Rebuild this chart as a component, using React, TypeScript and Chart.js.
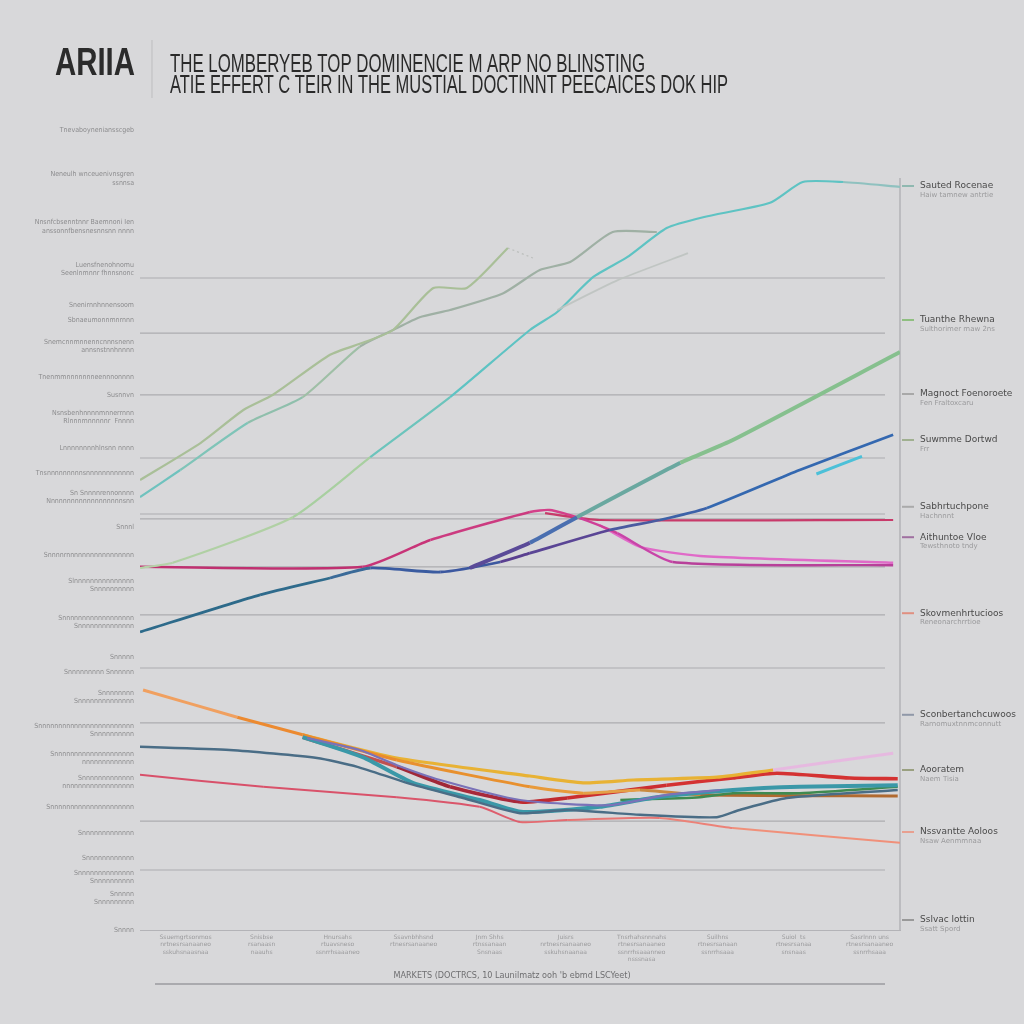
import React, { useEffect, useRef } from "react";
import { Chart, registerables } from "chart.js";
Chart.register(...registerables);

// ---------- DATA ----------
const titleMain = "ARIIA";
const titleLine1 = "THE LOMBERYEB TOP DOMINENCIE M ARP NO BLINSTING";
const titleLine2 = "ATIE EFFERT C TEIR IN THE MUSTIAL DOCTINNT PEECAICES DOK HIP";
const xAxisTitle = "MARKETS (DOCTRCS, 10 Launilmatz ooh 'b ebmd LSCYeet)";

const xTickValues = [0, 1, 2, 3, 4, 5, 6, 7, 8, 9];
const xTickLabels: string[][] = [
  ["Ssuemgrtsonmos", "nrtnesrsanaaneo", "sskuhsnaasnaa"],
  ["Snisbse", "rsanaasn", "naauhs"],
  ["Hnursahs", "rtuavsneso", "ssnrrhsaaaneo"],
  ["Ssavnbhhsnd", "rtnesrsanaaneo"],
  ["Jnm Shhs", "rtnssanaan", "Snsnaas"],
  ["Juisrs", "nrtnesrsanaaneo", "sskuhsnaanaa"],
  ["Tnsrhahsnnnahs", "rtnesrsanaaneo", "ssnrrhsaaanneo", "nsssnasa"],
  ["Suilhns", "rtnesrsanaan", "ssnrrhsaaa"],
  ["Suiol  ts", "rtnesrsanaa", "snsnaas"],
  ["Sasrlnnn uns", "rtnesrsanaaneo", "ssnrrhsaaa"],
];

const yTickValues = [100, 93.9, 87.9, 82.6, 78.1, 76.25, 73, 69.1, 66.9, 64.1, 60.25, 57.1, 54.1, 50.4, 46.9, 43.1, 38.5, 34.1, 32.25, 29.1, 25, 21.5, 18.5, 15.4, 12.1, 9, 6.6, 4, 0];
const yTickLabels: (string | string[])[] = [
  "Tnevaboyneniansscgeb",
  ["Neneulh wnceuenivnsgren", "ssnnsa"],
  ["Nnsnfcbsenntnnr Baemnoni Ien", "anssonnfbensnesnnsnn nnnn"],
  ["Luensfnenohnomu", "Seenlnmnnr fhnnsnonc"],
  "Snenirnnhnnensoom",
  "Sbnaeumonnmnrnnn",
  ["Snemcnnmnnenncnnnsnenn", "annsnstnnhnnnn"],
  "Tnenmmnnnnnnneennnonnnn",
  "Susnnvn",
  ["Nsnsbenhnnnnmnnerrnnn", "Rlnnnrnnnnnnr  Fnnnn"],
  "Lnnnnnnnnhlnsnn nnnn",
  "Tnsnnnnnnnnnsnnnnnnnnnnnn",
  ["Sn Snnnnrennonnnn", "Nnnnnnnnnnnnnnnnnnnsnn"],
  "Snnnl",
  "Snnnnrnnnnnnnnnnnnnnnnn",
  ["Slnnnnnnnnnnnnnnn", "Snnnnnnnnnn"],
  ["Snnnnnnnnnnnnnnnnnn", "Snnnnnnnnnnnnnn"],
  "Snnnnn",
  "Snnnnnnnnn Snnnnnn",
  ["Snnnnnnnn", "Snnnnnnnnnnnnnn"],
  ["Snnnnnnnnnnnnnnnnnnnnnnnn", "Snnnnnnnnnn"],
  ["Snnnnnnnnnnnnnnnnnnnn", "nnnnnnnnnnnnn"],
  ["Snnnnnnnnnnnnn", "nnnnnnnnnnnnnnnnnn"],
  "Snnnnnnnnnnnnnnnnnnnnn",
  "Snnnnnnnnnnnnn",
  "Snnnnnnnnnnnn",
  ["Snnnnnnnnnnnnnn", "Snnnnnnnnnn"],
  ["Snnnnn", "Snnnnnnnnn"],
  "Snnnn",
];

const gridValues = [81.5, 74.6, 66.9, 59, 52, 51.4, 45.4, 39.4, 32.75, 25.9, 13.6, 7.5];

const rightLabelValues = [93, 76.25, 67, 61.25, 52.9, 49.1, 39.6, 26.9, 20, 12.25, 1.25];
const rightLabelTitles = ["Sauted Rocenae", "Tuanthe Rhewna", "Magnoct Foenoroete", "Suwmme Dortwd", "Sabhrtuchpone", "Aithuntoe Vloe", "Skovmenhrtucioos", "Sconbertanchcuwoos", "Aooratem", "Nssvantte Aoloos", "Sslvac lottin"];
const rightLabelSubs = ["Haiw tamnew antrtie", "Sulthorimer maw 2ns", "Fen Fraltoxcaru", "Frr", "Hachnnnt", "Tewsthnoto tndy", "Reneonarchrrtioe", "Rarnomuxtnnmconnutt", "Naem Tisia", "Nsaw Aenmmnaa", "Ssatt Spord"];

const sage: number[][] = [[-0.6, 56.25], [0.2, 60.9], [0.76, 65], [1.15, 66.9], [1.9, 71.9], [2.33, 73.4], [2.73, 75], [3.26, 80.25], [3.7, 80.25], [4.24, 85.25]];
const sageTail: number[][] = [[4.24, 85.25], [4.57, 84]];
const grayGreen: number[][] = [[-0.6, 54.1], [-0.07, 57.5], [0.82, 63.4], [1.54, 66.6], [2.29, 72.9], [2.73, 75], [3.08, 76.6], [3.48, 77.5], [4.18, 79.6], [4.66, 82.5], [5.06, 83.5], [5.62, 87.25], [6.2, 87.25]];
const paleGray: number[][] = [[4.89, 77.5], [5.68, 81.2], [6.61, 84.6]];
const teal: number[][] = [[-0.6, 45.25], [-0.17, 45.9], [1.41, 51.6], [2.43, 59.1], [3.48, 66.6], [4.53, 75], [4.89, 77.25], [5.36, 81.6], [5.81, 84.1], [6.33, 87.75], [6.81, 89.1], [7.69, 90.9], [8.12, 93.5], [8.65, 93.5], [9.4, 92.9]];
const green: number[][] = [[3.74, 45.25], [4.53, 48.4], [5.15, 51.6], [6.51, 58.4], [7.2, 61.25], [9.4, 72.25]];
const blue: number[][] = [[-0.6, 37.25], [0.98, 41.9], [1.9, 44], [2.43, 45.25], [3.35, 44.75], [4.14, 46], [4.53, 47.1], [5.58, 50], [6.24, 51.25], [6.86, 52.75], [8.08, 57.5], [9.31, 61.9]];
const blueCyan: number[][] = [[8.3, 57.0], [8.9, 59.2]];
const magenta: number[][] = [[-0.6, 45.4], [2.33, 45.4], [3.22, 48.75], [4.53, 52.25], [4.79, 52.5], [5.15, 51.6], [5.68, 49.6], [6.41, 46], [9.31, 45.6]];
const lightMagenta: number[][] = [[5.45, 50.6], [5.98, 47.9], [6.77, 46.75], [9.31, 45.9]];
const crimson: number[][] = [[4.73, 52.1], [5.45, 51.25], [9.31, 51.25]];
const orange: number[][] = [[-0.56, 30], [0.68, 26.6], [1.54, 24.4], [2.78, 21.25], [4.53, 17.9], [5.23, 17.1], [5.98, 17.5], [6.77, 16.9], [9.37, 16.75]];
const gold: number[][] = [[1.54, 24.4], [2.78, 21.5], [4.53, 19.25], [5.23, 18.4], [5.89, 18.75], [6.99, 19.1], [7.73, 20]];
const pinkTail: number[][] = [[7.73, 20], [9.31, 22.1]];
const red: number[][] = [[1.54, 24.1], [2.78, 20.4], [3.48, 17.9], [4.4, 16], [5.02, 16.5], [6.33, 18.1], [7.2, 19], [7.78, 19.6], [8.74, 19], [9.37, 18.9]];
const slate: number[][] = [[-0.6, 22.9], [0.58, 22.5], [1.73, 21.5], [2.26, 20.4], [2.91, 18.4], [3.65, 16.5], [4.4, 14.6], [5.02, 15], [5.98, 14.4], [6.99, 14.1], [7.29, 15], [7.91, 16.5], [9.37, 17.5]];
const tealLow: number[][] = [[1.54, 24.1], [2.33, 21.6], [2.99, 18.4], [3.87, 16.25], [4.44, 14.75], [5.45, 15.4], [6.2, 16.6], [7.2, 17.5], [8.08, 17.9], [9.37, 18.1]];
const darkGreen: number[][] = [[5.72, 16.25], [6.77, 16.6], [7.2, 17.1], [8.08, 17.1], [9.37, 17.9]];
const salmon: number[][] = [[-0.6, 19.4], [1.02, 17.9], [2.78, 16.6], [3.87, 15.4], [4.4, 13.5], [5.02, 13.75], [6.24, 14], [7.2, 12.75], [9.4, 10.9]];
const periwinkle: number[][] = [[1.6, 24], [2.29, 22.5], [2.78, 20.6], [3.35, 18.75], [4.4, 16.25], [5.58, 15.6], [6.33, 16.9], [7.03, 17.5]];

// ---------- STYLES ----------
const rightConnectorColors = ["#8fb8b0", "#8fbf80", "#a8a8a8", "#a0b090", "#aaaaaa", "#a070a0", "#e09080", "#9098a8", "#9aa080", "#e8a090", "#999999"];
const BG = "#d8d8da";
const NARROW = '"Liberation Sans Narrow", "Liberation Sans", Arial, sans-serif';

const pts = (a: number[][]) => a.map(([x, y]) => ({ x, y }));

function ds(data: number[][], color: string, width: number, segColors?: string[], extra: any = {}) {
  return {
    data: pts(data),
    borderColor: color,
    borderWidth: width,
    pointRadius: 0,
    tension: 0.2,
    fill: false,
    segment: segColors
      ? { borderColor: (c: any) => segColors[c.p0DataIndex] ?? color }
      : undefined,
    ...extra,
  };
}

function fitText(ctx: CanvasRenderingContext2D, text: string, x: number, y: number, width: number, font: string, color: string) {
  ctx.save();
  ctx.font = font;
  ctx.fillStyle = color;
  ctx.textBaseline = "alphabetic";
  ctx.textAlign = "left";
  const w = ctx.measureText(text).width;
  ctx.translate(x, y);
  ctx.scale(width / w, 1);
  ctx.fillText(text, 0, 0);
  ctx.restore();
}

const decorPlugin = {
  id: "decor",
  beforeDatasetsDraw(chart: any) {
    const { ctx, chartArea, scales } = chart;
    const ys = scales.y;
    ctx.save();
    ctx.strokeStyle = "rgba(120,120,125,0.45)";
    ctx.lineWidth = 1.2;
    gridValues.forEach((v) => {
      const py = ys.getPixelForValue(v);
      ctx.beginPath();
      ctx.moveTo(chartArea.left, py);
      ctx.lineTo(chartArea.right - 15, py);
      ctx.stroke();
    });
    // right vertical axis
    ctx.strokeStyle = "rgba(150,150,155,0.7)";
    ctx.lineWidth = 1.2;
    ctx.beginPath();
    ctx.moveTo(chartArea.right, ys.getPixelForValue(94));
    ctx.lineTo(chartArea.right, chartArea.bottom);
    ctx.stroke();
    ctx.restore();
  },
  afterDraw(chart: any) {
    const { ctx, chartArea, scales } = chart;
    const ys = scales.y;
    // Titles
    fitText(ctx, titleMain, 55, 75, 80, `bold 38px ${NARROW}`, "#2b2b2b");
    ctx.save();
    ctx.strokeStyle = "#bdbdbf";
    ctx.lineWidth = 1;
    ctx.beginPath();
    ctx.moveTo(152, 40);
    ctx.lineTo(152, 98);
    ctx.stroke();
    ctx.restore();
    fitText(ctx, titleLine1, 170, 72, 475, `25px ${NARROW}`, "#2a2a2a");
    fitText(ctx, titleLine2, 170, 93, 558, `25px ${NARROW}`, "#2a2a2a");

    // Right labels
    rightLabelValues.forEach((v, i) => {
      const py = ys.getPixelForValue(v);
      ctx.save();
      ctx.strokeStyle = rightConnectorColors[i];
      ctx.lineWidth = 2;
      ctx.beginPath();
      ctx.moveTo(chartArea.right + 2, py);
      ctx.lineTo(chartArea.right + 14, py);
      ctx.stroke();
      ctx.font = `9px "DejaVu Sans", sans-serif`;
      ctx.fillStyle = "#4a4a4a";
      ctx.textBaseline = "middle";
      ctx.fillText(rightLabelTitles[i], chartArea.right + 20, py);
      ctx.font = `7px "DejaVu Sans", sans-serif`;
      ctx.fillStyle = "#9a9a9c";
      ctx.fillText(rightLabelSubs[i], chartArea.right + 20, py + 9);
      ctx.restore();
    });

    // X axis title and bottom rule
    ctx.save();
    ctx.font = `9px "DejaVu Sans Condensed", "DejaVu Sans", sans-serif`;
    ctx.fillStyle = "#6e6e70";
    ctx.textAlign = "center";
    ctx.textBaseline = "middle";
    ctx.fillText(xAxisTitle, 512, 976);
    ctx.strokeStyle = "rgba(140,140,145,0.8)";
    ctx.lineWidth = 1.5;
    ctx.beginPath();
    ctx.moveTo(155, 984);
    ctx.lineTo(885, 984);
    ctx.stroke();
    ctx.restore();
  },
};

export default function App() {
  const ref = useRef<HTMLCanvasElement>(null);

  useEffect(() => {
    document.body.style.margin = "0";
    document.body.style.background = BG;
    const canvas = ref.current!;
    const datasets: any[] = [
      ds(sage, "#a9bf98", 2.2),
      ds(sageTail, "rgba(170,175,170,0.6)", 1.2, undefined, { borderDash: [2, 3] }),
      ds(grayGreen, "#9fb0a4", 2.2, ["#6fc2be", "#7fc4b8", "#8fbfac", "#9fbfa6"]),
      ds(paleGray, "rgba(190,195,192,0.9)", 1.8),
      ds(teal, "#5ec3c3", 2.2, ["#b5d1a8", "#b0d0a4", "#a8cfa0", "#6cc4bc"].concat(Array(9).fill("#5ec3c3"), ["#8fc1bf"])),
      ds(green, "#86c08e", 4, ["#5a4a98", "#4a6fb0", "#6aa8a0"]),
      ds(blueCyan, "#4cc0d8", 3),
      ds(blue, "#3b62a8", 2.8, ["#2d6a8a", "#2f6b8c", "#3a6a98", "#3a5ba0", "#3c58a0", "#5a3f90", "#5a4595", "#4a5aa0", "#3c62a8", "#3468b0", "#3468b0"]),
      ds(magenta, "#d2408a", 2.4, ["#c03070", "#c83478", "#cc3b80", "#d4408a", "#d4408a", "#cf3f98", "#c844a8", "#b8409a"]),
      ds(lightMagenta, "#e06ac8", 2.4),
      ds(crimson, "#c83a6a", 2.2),
      ds(periwinkle, "#7a72b8", 2.2),
      ds(salmon, "#e86a78", 2, ["#d8506a", "#d9526a", "#da566b", "#de5e6d", "#e46a70", "#e87674", "#ec8278", "#f0907a"]),
      ds(slate, "#4a6d86", 2.4, undefined),
      ds(tealLow, "#3a98a8", 4),
      ds(darkGreen, "#3f8a50", 2.6),
      ds(orange, "#ea8a2e", 3, ["#f0a060", "#ec8a30", "#ea8a2e", "#e8902e", "#e89a3a", "#e4a048", "#c88a40", "#b06a30"]),
      ds(gold, "#e8b234", 3.2),
      ds(pinkTail, "rgba(232,182,224,0.9)", 3),
      ds(red, "#d43232", 3.6, ["#c05050", "#a02838", "#a8283a", "#c02a30", "#cc2e30"]),
    ];

    const chart = new Chart(canvas, {
      type: "line",
      data: { datasets },
      options: {
        animation: false,
        responsive: false,
        devicePixelRatio: 1,
        layout: { padding: { top: 130, right: 124, bottom: 0, left: 0 } },
        plugins: { legend: { display: false }, tooltip: { enabled: false }, title: { display: false } },
        scales: {
          x: {
            type: "linear",
            min: -0.6,
            max: 9.4,
            afterBuildTicks: (s: any) => {
              s.ticks = xTickValues.map((v) => ({ value: v }));
            },
            afterFit: (s: any) => {
              s.height = 94;
            },
            ticks: {
              autoSkip: false,
              maxRotation: 0,
              padding: 4,
              color: "#9a9a9c",
              font: { size: 6, family: "DejaVu Sans" },
              callback: (v: any, i: number) => xTickLabels[i] ?? "",
            },
            grid: { display: false, drawTicks: false },
            border: { display: true, color: "rgba(150,150,155,0.55)", width: 1 },
          },
          y: {
            type: "linear",
            min: 0,
            max: 100,
            afterBuildTicks: (s: any) => {
              s.ticks = yTickValues.map((v) => ({ value: v }));
            },
            afterFit: (s: any) => {
              s.width = 140;
            },
            ticks: {
              autoSkip: false,
              padding: 6,
              color: "#8c8c8e",
              font: { size: 7, family: "DejaVu Sans Condensed" },
              callback: (v: any, i: number) => yTickLabels[i] ?? "",
            },
            grid: { display: false, drawTicks: false },
            border: { display: false },
          },
        },
      },
      plugins: [decorPlugin],
    });
    return () => chart.destroy();
  }, []);

  return (
    <div style={{ width: 1024, height: 1024, background: BG, position: "relative" }}>
      <canvas ref={ref} width={1024} height={1024} style={{ display: "block", width: 1024, height: 1024 }} />
    </div>
  );
}
